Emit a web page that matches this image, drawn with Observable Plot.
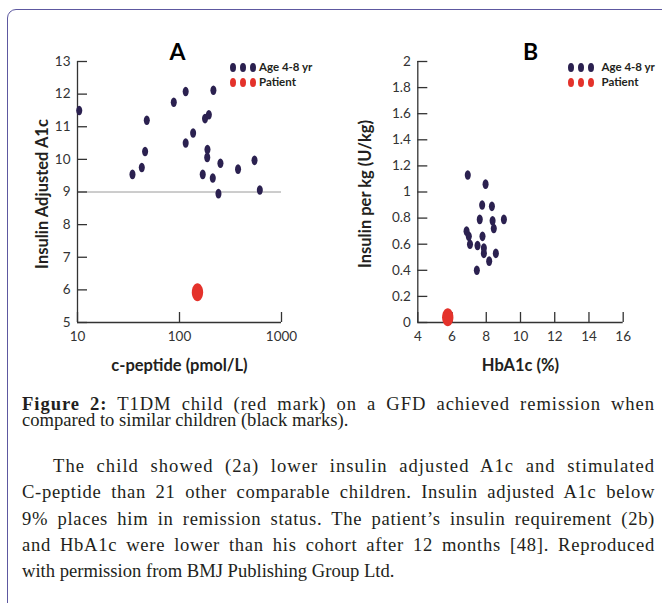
<!DOCTYPE html>
<html>
<head>
<meta charset="utf-8">
<script src="https://cdn.jsdelivr.net/npm/d3@7"></script>
<script src="https://cdn.jsdelivr.net/npm/@observablehq/plot@0.6"></script>
<style>
  body { margin: 0; background: #fff; }
  #fig { position: relative; width: 662px; height: 603px; overflow: hidden; background: #fff; }
  #border { position: absolute; left: 7px; top: 9px; width: 720px; height: 720px; border: 1.5px solid #5d58a0; border-radius: 9px; }
  .panel { position: absolute; top: 0; }
  .legend { position: absolute; font-family: Lato, "Open Sans", sans-serif; font-weight: 700; font-size: 11.5px; color: #231f20; }
  .legend .row { position: absolute; left: 0; white-space: nowrap; height: 12px; line-height: 12px; }
  .legend .dot { position: absolute; top: 1.5px; width: 6px; height: 9px; border-radius: 50%; }
  .legend .lab { position: absolute; top: 0; }
  .cap { position: absolute; left: 22px; width: 633px; font-family: "Liberation Serif", "Times New Roman", serif; font-size: 18.6px; color: #231f20; }
  .cap .ln { text-align: left; white-space: nowrap; }
  .cap .ln.just { text-align: justify; text-align-last: justify; }
</style>
</head>
<body>
<div id="fig">
  <div id="border"></div>
  <div id="panelA" class="panel" style="left:0px"></div>
  <div id="panelB" class="panel" style="left:331px"></div>
  <div id="legA" class="legend" style="left:230px;top:61px"></div>
  <div id="legB" class="legend" style="left:568px;top:61px"></div>
  <div class="cap" style="top:395.5px;line-height:16px">
    <div class="ln j"><span><b>Figure 2:</b> T1DM child (red mark) on a GFD achieved remission when</span></div>
    <div class="ln"><span>compared to similar children (black marks).</span></div>
  </div>
  <div class="cap" style="top:453px;line-height:26.3px">
    <div class="ln j" style="padding-left:31px"><span>The child showed (2a) lower insulin adjusted A1c and stimulated</span></div>
    <div class="ln j"><span>C-peptide than 21 other comparable children. Insulin adjusted A1c below</span></div>
    <div class="ln j"><span>9% places him in remission status. The patient’s insulin requirement (2b)</span></div>
    <div class="ln j"><span>and HbA1c were lower than his cohort after 12 months [48]. Reproduced</span></div>
    <div class="ln"><span>with permission from BMJ Publishing Group Ltd.</span></div>
  </div>
</div>
<script>
// ---- Data ----
// Panel A: cohort (Age 4-8 yr)
const cPeptide = [10.4, 34.6, 42.7, 46.0, 47.8, 87.9, 115, 115, 136, 169, 178, 194, 188, 187, 215, 212, 252, 241, 375, 544, 613];
const insulinAdjA1c = [11.5, 9.54, 9.75, 10.24, 11.2, 11.75, 12.08, 10.5, 10.81, 9.54, 11.25, 11.37, 10.3, 10.06, 12.12, 9.43, 9.88, 8.95, 9.7, 9.97, 9.06];
// Panel A: patient
const patientCPeptide = [150];
const patientInsulinAdjA1c = [5.93];
const remissionThreshold = [9];
// Panel B: cohort
const hba1c = [6.92, 7.96, 7.76, 8.33, 7.62, 8.37, 9.03, 8.44, 6.85, 6.98, 7.78, 7.05, 7.49, 7.86, 7.86, 8.56, 8.17, 7.45];
const insulinPerKg = [1.13, 1.06, 0.9, 0.89, 0.79, 0.78, 0.79, 0.72, 0.70, 0.66, 0.66, 0.6, 0.59, 0.57, 0.53, 0.53, 0.47, 0.40];
// Panel B: patient
const patientHbA1c = [5.75];
const patientInsulinPerKg = [0.04];
// Axes
const xTicksA = [10, 100, 1000];
const yTicksA = [5, 6, 7, 8, 9, 10, 11, 12, 13];
const xTicksB = [4, 6, 8, 10, 12, 14, 16];
const yTicksB = [0, 0.2, 0.4, 0.6, 0.8, 1, 1.2, 1.4, 1.6, 1.8, 2];
const legendLabels = ["Age 4-8 yr", "Patient"];
const colors = {cohort: "#2b2150", patient: "#e4322b"};

const cohortA = cPeptide.map((x, i) => ({x, y: insulinAdjA1c[i]}));
const patientA = patientCPeptide.map((x, i) => ({x, y: patientInsulinAdjA1c[i]}));
const cohortB = hba1c.map((x, i) => ({x, y: insulinPerKg[i]}));
const patientB = patientHbA1c.map((x, i) => ({x, y: patientInsulinPerKg[i]}));

// Vertical ellipse symbol
const K = 0.5522847498;
const ellipse = {
  draw(ctx, size) {
    const r = Math.sqrt(size / Math.PI), rx = r * 0.63, ry = r;
    ctx.moveTo(rx, 0);
    ctx.bezierCurveTo(rx, ry * K, rx * K, ry, 0, ry);
    ctx.bezierCurveTo(-rx * K, ry, -rx, ry * K, -rx, 0);
    ctx.bezierCurveTo(-rx, -ry * K, -rx * K, -ry, 0, -ry);
    ctx.bezierCurveTo(rx * K, -ry, rx, -ry * K, rx, 0);
    ctx.closePath();
  }
};

const axisColor = "#333";
const font = "Lato, 'Open Sans', sans-serif";
const labelStyle = {fontSize: 16.5, fontWeight: 700, fill: "#231f20", fontFamily: font};

function panel({x, y, xTicks, yTicks, yFmt, cohort, patient, title, titleDx, xLabel, yLabel, yLabelDx, marginLeft, marginRight, extra = []}) {
  return Plot.plot({
    width: 331, height: 380,
    marginLeft, marginRight, marginTop: 61, marginBottom: 58,
    style: {fontFamily: font, fontSize: "13.5px", color: "#333", background: "transparent"},
    x: {...x},
    y: {...y},
    marks: [
      ...extra,
      Plot.ruleX([x.domain[0]], {stroke: axisColor, strokeWidth: 1.3}),
      Plot.ruleY([y.domain[0]], {stroke: axisColor, strokeWidth: 1.3}),
      Plot.axisX({ticks: xTicks, tickFormat: d => String(d), tickSize: -10, stroke: axisColor, strokeWidth: 1.3, fill: "#333", label: null}),
      Plot.axisY({ticks: yTicks, tickFormat: yFmt, tickSize: -10, tickPadding: 17, stroke: axisColor, strokeWidth: 1.3, fill: "#333", label: null}),
      Plot.dot(cohort, {x: "x", y: "y", symbol: ellipse, r: 4.8, fill: colors.cohort, stroke: "none"}),
      Plot.dot(patient, {x: "x", y: "y", symbol: ellipse, r: 9, fill: colors.patient, stroke: "none"}),
      Plot.text([title], {frameAnchor: "top", textAnchor: "middle", lineAnchor: "middle", dy: -9, dx: titleDx, fontSize: 23, fontWeight: 700, fill: "#000", fontFamily: font}),
      Plot.text([xLabel], {frameAnchor: "bottom", textAnchor: "middle", lineAnchor: "middle", dy: 43, ...labelStyle}),
      Plot.text([yLabel], {frameAnchor: "left", textAnchor: "middle", lineAnchor: "middle", rotate: -90, dx: yLabelDx, dy: 2, ...labelStyle})
    ]
  });
}

const plotA = panel({
  x: {type: "log", domain: [10, 1000]},
  y: {domain: [5, 13]},
  xTicks: xTicksA, yTicks: yTicksA, yFmt: d => String(d),
  cohort: cohortA, patient: patientA,
  title: "A", titleDx: -2,
  xLabel: "c-peptide (pmol/L)", yLabel: "Insulin Adjusted A1c", yLabelDx: -35,
  marginLeft: 77, marginRight: 50,
  extra: [Plot.ruleY(remissionThreshold, {stroke: "#9a9a9a", strokeWidth: 1})]
});
const plotB = panel({
  x: {domain: [4, 16]},
  y: {domain: [0, 2]},
  xTicks: xTicksB, yTicks: yTicksB, yFmt: d => String(+d.toFixed(1)),
  cohort: cohortB, patient: patientB,
  title: "B", titleDx: 10,
  xLabel: "HbA1c (%)", yLabel: "Insulin per kg (U/kg)", yLabelDx: -52,
  marginLeft: 86.3, marginRight: 39.3
});
document.getElementById("panelA").appendChild(plotA);
document.getElementById("panelB").appendChild(plotB);

// Legends
function legend(el, gap) {
  const keys = [colors.cohort, colors.patient];
  legendLabels.forEach((lab, i) => {
    const row = document.createElement("div");
    row.className = "row";
    row.style.top = (i * 15) + "px";
    for (let j = 0; j < 3; j++) {
      const d = document.createElement("span");
      d.className = "dot";
      d.style.left = (j * 10) + "px";
      d.style.background = keys[i];
      row.appendChild(d);
    }
    const t = document.createElement("span");
    t.className = "lab";
    t.style.left = (26 + gap) + "px";
    t.textContent = lab;
    row.appendChild(t);
    el.appendChild(row);
  });
}
legend(document.getElementById("legA"), 3);
legend(document.getElementById("legB"), 7.5);

// Justify caption lines partly through letter spacing (as the typeset original does)
document.querySelectorAll(".cap .ln.j").forEach(ln => {
  const span = ln.querySelector("span");
  const pad = parseFloat(ln.style.paddingLeft || 0);
  const natural = span.getBoundingClientRect().width;
  const avail = 633 - pad;
  const extra = Math.max(0, avail - natural);
  const n = span.textContent.length;
  span.style.letterSpacing = (0.55 * extra / n) + "px";
  ln.classList.add("just");
});
</script>
</body>
</html>
